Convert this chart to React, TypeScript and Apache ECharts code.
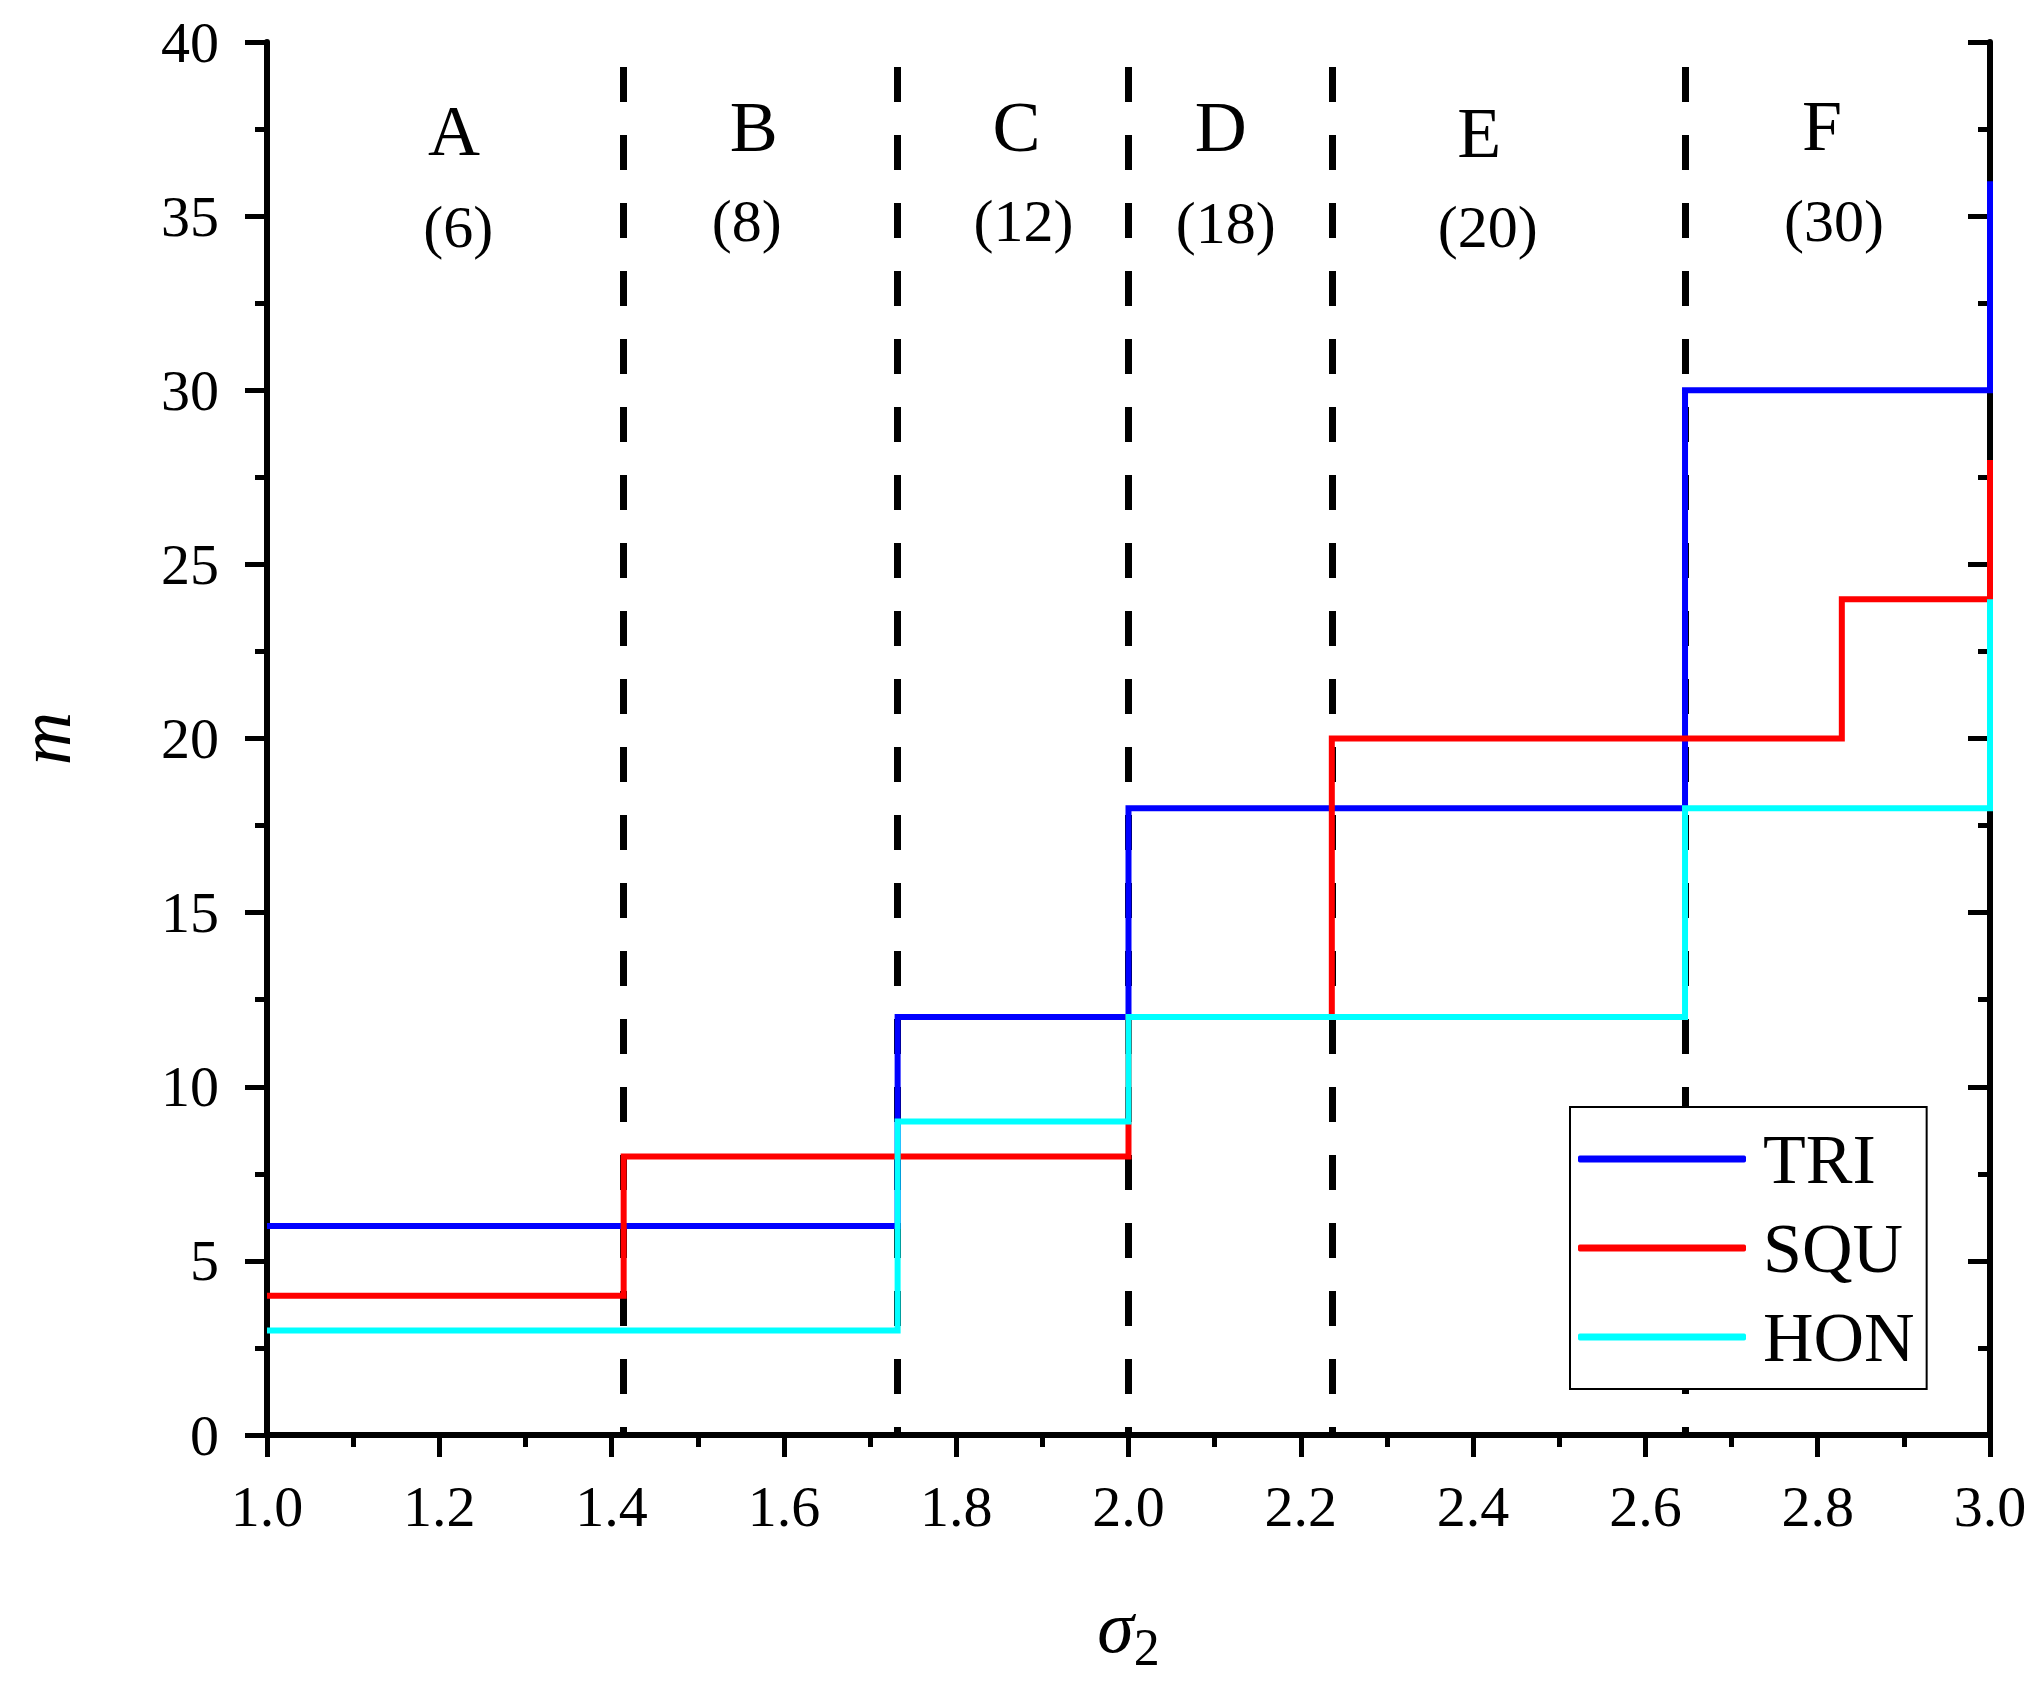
import React, { useEffect, useRef } from "react";
import * as echarts from "echarts";

// Breakpoints (sigma_2) and plateau values (m)
const triX = [1.0, 1.732, 2.0, 2.646, 3.0];
const triY = [6, 12, 18, 30, 36];
const squX = [1.0, 1.414, 2.0, 2.236, 2.828, 3.0];
const squY = [4, 8, 12, 20, 24, 28];
const honX = [1.0, 1.732, 2.0, 2.646, 3.0];
const honY = [3, 9, 12, 18, 24];

// Region boundaries (dashed lines)
const boundaryX = [1.414, 1.732, 2.0, 2.236, 2.646];
const boundaryTop = 39.28;

// Region labels
const regionNames = ["A", "B", "C", "D", "E", "F"];
const regionNameX = [1.217, 1.565, 1.87, 2.107, 2.407, 2.805];
const regionNameY = [37.45, 37.55, 37.55, 37.55, 37.4, 37.6];
const regionCounts = ["(6)", "(8)", "(12)", "(18)", "(20)", "(30)"];
const regionCountX = [1.222, 1.557, 1.878, 2.113, 2.417, 2.819];
const regionCountY = [34.7, 34.85, 34.85, 34.8, 34.7, 34.85];

const seriesNames = ["TRI", "SQU", "HON"];
const seriesColors = ["#0000ff", "#ff0000", "#00ffff"];

const FONT = "'Liberation Serif', 'Times New Roman', serif";

function pairs(xs: number[], ys: number[]) {
  return xs.map((x, i) => [x, ys[i]]);
}

export default function App() {
  const ref = useRef<HTMLDivElement>(null);
  useEffect(() => {
    document.body.style.margin = "0";
    if (!ref.current) return;
    const chart = echarts.init(ref.current, undefined, { renderer: "svg" });
    const axisLine = { show: true, lineStyle: { color: "#000", width: 6 } };
    const tickStyle = { color: "#000", width: 5 };
    const xBase = {
      type: "value" as const,
      min: 1,
      max: 3,
      interval: 0.2,
      axisLine,
      splitLine: { show: false },
      minorTick: { show: true, splitNumber: 2, length: 12, lineStyle: tickStyle },
      minorSplitLine: { show: false },
    };
    const yBase = {
      type: "value" as const,
      min: 0,
      max: 40,
      interval: 5,
      axisLine,
      splitLine: { show: false },
      minorTick: { show: true, splitNumber: 2, length: 12, lineStyle: tickStyle },
      minorSplitLine: { show: false },
    };
    const dataSets = [pairs(triX, triY), pairs(squX, squY), pairs(honX, honY)];
    const labelBase = {
      show: true,
      position: "inside",
      formatter: "{b}",
      fontFamily: FONT,
      color: "#000000",
      opacity: 1,
      textBorderWidth: 0,
      textShadowBlur: 0,
    };
    chart.setOption({
      animation: false,
      backgroundColor: "#fff",
      grid: { left: 258, right: 41, top: 42, bottom: 249, containLabel: false },
      xAxis: [
        {
          ...xBase,
          position: "bottom",
          axisTick: { show: true, inside: false, length: 22, lineStyle: tickStyle },
          axisLabel: {
            show: true,
            margin: 42,
            fontSize: 58,
            color: "#000",
            fontFamily: FONT,
            formatter: (v: number) => v.toFixed(1),
          },
          name: "{s|σ}{sub|2}",
          nameLocation: "middle",
          nameGap: 146,
          nameTextStyle: {
            rich: {
              s: { fontSize: 74, fontStyle: "italic", fontFamily: FONT, color: "#000" },
              sub: { fontSize: 52, fontFamily: FONT, color: "#000", padding: [40, 0, 0, 0] },
            },
          },
        },
        {
          ...xBase,
          position: "top",
          axisTick: { show: true, inside: true, length: 22, lineStyle: tickStyle },
          axisLabel: { show: false },
        },
      ],
      yAxis: [
        {
          ...yBase,
          position: "left",
          axisTick: { show: true, inside: false, length: 22, lineStyle: tickStyle },
          axisLabel: {
            show: true,
            margin: 48,
            fontSize: 58,
            color: "#000",
            fontFamily: FONT,
          },
          name: "m",
          nameLocation: "middle",
          nameRotate: 90,
          nameGap: 185,
          nameTextStyle: { fontSize: 74, fontStyle: "italic", fontFamily: FONT, color: "#000" },
        },
        {
          ...yBase,
          position: "right",
          axisTick: { show: true, inside: true, length: 22, lineStyle: tickStyle },
          axisLabel: { show: false },
        },
      ],
      legend: {
        data: seriesNames,
        orient: "vertical",
        left: 1570,
        top: 1107,
        padding: [14, 12, 14, 8],
        itemGap: 13,
        itemWidth: 168,
        itemHeight: 7,
        icon: "roundRect",
        borderColor: "#000",
        borderWidth: 2,
        borderRadius: 0,
        backgroundColor: "#fff",
        textStyle: {
          fontSize: 70,
          fontFamily: FONT,
          color: "#000",
          lineHeight: 76,
          padding: [0, 0, 0, 12],
        },
      },
      series: [
        {
          name: "guides",
          type: "line",
          data: [],
          showSymbol: false,
          silent: true,
          z: 1,
          markLine: {
            silent: true,
            z: 1,
            symbol: ["none", "none"],
            label: { show: false },
            lineStyle: { color: "#000", width: 7, type: [35, 33] },
            data: boundaryX.map((x) => [{ coord: [x, boundaryTop] }, { coord: [x, 0] }]),
          },
        },
        ...seriesNames.map((name, i) => ({
          name,
          type: "line",
          step: "end",
          data: dataSets[i],
          showSymbol: false,
          symbol: "none",
          clip: false,
          z: 10 + i,
          lineStyle: { color: seriesColors[i], width: 6, join: "miter", cap: "butt" },
          itemStyle: { color: seriesColors[i] },
        })),
        {
          name: "regionNames",
          type: "scatter",
          symbolSize: 1,
          itemStyle: { color: "rgba(255,255,255,0)" },
          silent: true,
          z: 20,
          data: regionNames.map((n, i) => ({ name: n, value: [regionNameX[i], regionNameY[i]] })),
          label: { ...labelBase, fontSize: 72 },
        },
        {
          name: "regionCounts",
          type: "scatter",
          symbolSize: 1,
          itemStyle: { color: "rgba(255,255,255,0)" },
          silent: true,
          z: 20,
          data: regionCounts.map((n, i) => ({ name: n, value: [regionCountX[i], regionCountY[i]] })),
          label: { ...labelBase, fontSize: 60 },
        },
      ],
    });
    return () => chart.dispose();
  }, []);
  return <div ref={ref} style={{ width: 2031, height: 1684 }} />;
}
